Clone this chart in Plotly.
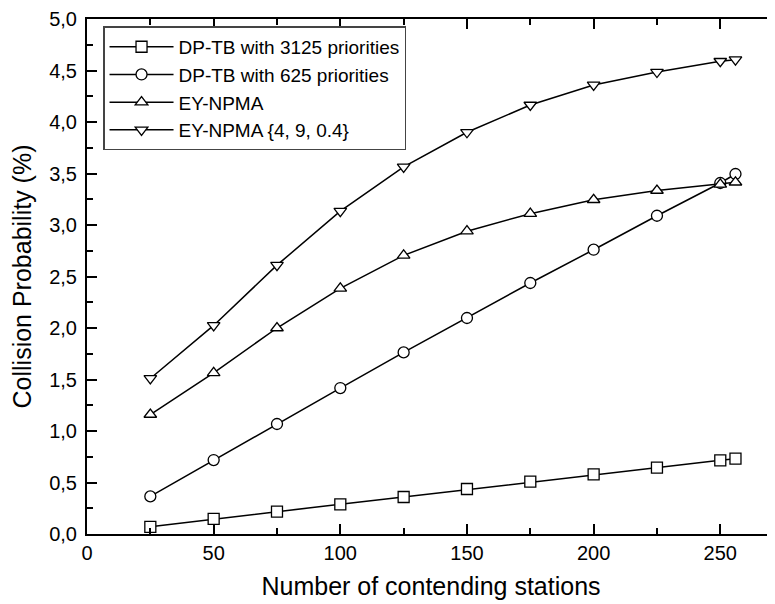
import plotly.graph_objects as go

stations = [25, 50, 75, 100, 125, 150, 175, 200, 225, 250, 256]
dptb_3125 = [0.07, 0.146, 0.217, 0.288, 0.359, 0.437, 0.508, 0.579, 0.644, 0.715, 0.731]
dptb_625 = [0.365, 0.718, 1.068, 1.417, 1.763, 2.097, 2.437, 2.760, 3.09, 3.408, 3.495]
ey_npma = [1.16, 1.565, 2.0, 2.385, 2.705, 2.94, 3.11, 3.245, 3.335, 3.395, 3.415]
ey_npma_tuned = [1.51, 2.025, 2.61, 3.135, 3.565, 3.90, 4.165, 4.36, 4.485, 4.59, 4.605]

names = ["DP-TB with 3125 priorities", "DP-TB with 625 priorities", "EY-NPMA", "EY-NPMA {4, 9, 0.4}"]
symbols = ["square", "circle", "triangle-up", "triangle-down"]
series = [dptb_3125, dptb_625, ey_npma, ey_npma_tuned]

FONT = "Arial, Liberation Sans, sans-serif"

fig = go.Figure()
for name, sym, ys in zip(names, symbols, series):
    fig.add_trace(go.Scatter(
        x=stations, y=ys, name=name, mode="lines+markers",
        line=dict(color="black", width=1.5),
        marker=dict(symbol=sym, size=11, color="white",
                    line=dict(color="black", width=1.3)),
    ))

# the page body adds an 8px offset; margins compensate so the plot lands where the reference has it
fig.update_layout(
    width=775, height=604,
    margin=dict(l=79, r=8, t=11, b=78),
    paper_bgcolor="white", plot_bgcolor="white",
    separators=",.",
    font=dict(family=FONT, size=20, color="black"),
    showlegend=True,
    legend=dict(
        x=0.0233, y=0.9856, xanchor="left", yanchor="top",
        bgcolor="white", bordercolor="#444", borderwidth=1.5,
        font=dict(family=FONT, size=19, color="black"),
        itemwidth=64, entrywidth=330,
    ),
    xaxis=dict(
        range=[0, 271.6], tickmode="linear", tick0=0, dtick=50,
        showline=True, linecolor="black", linewidth=2, mirror="ticks",
        ticks="inside", ticklen=10, tickwidth=2, tickcolor="black",
        minor=dict(dtick=25, ticks="inside", ticklen=6, tickwidth=2, tickcolor="black"),
        showgrid=False, zeroline=False, automargin=False,
        tickfont=dict(family=FONT, size=20),
        title=dict(text="Number of contending stations", font=dict(family=FONT, size=25), standoff=14),
    ),
    yaxis=dict(
        range=[0, 5], tickmode="linear", tick0=0, dtick=0.5, tickformat=".1f",
        showline=True, linecolor="black", linewidth=2, mirror=False,
        ticks="inside", ticklen=10, tickwidth=2, tickcolor="black",
        minor=dict(dtick=0.25, ticks="inside", ticklen=6, tickwidth=2, tickcolor="black"),
        showgrid=False, zeroline=False, automargin=False, ticklabelstandoff=4,
        tickfont=dict(family=FONT, size=20),
        title=dict(text="Collision Probability (%)", font=dict(family=FONT, size=25), standoff=10),
    ),
)

fig.write_html("out.html")
